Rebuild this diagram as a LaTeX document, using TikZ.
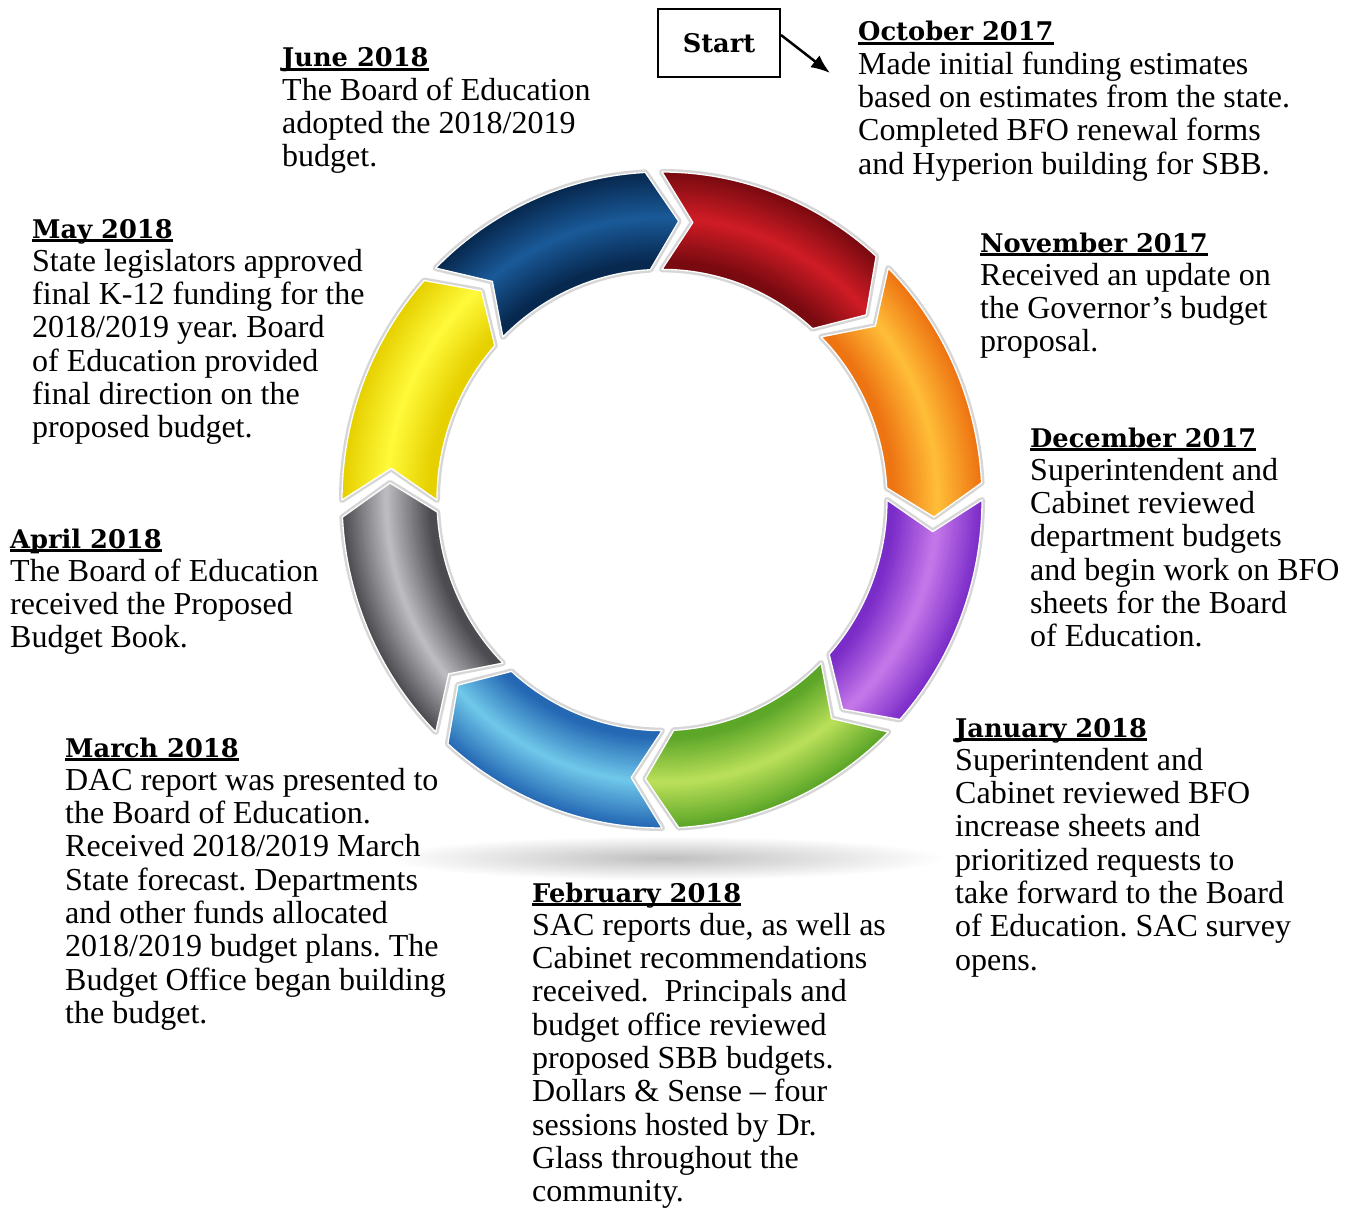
\documentclass[tikz,border=0pt]{standalone}
\usepackage{fontspec}
\setmainfont{Liberation Serif}
\newfontfamily\hdfamily{DejaVu Serif}
\usetikzlibrary{arrows.meta}
\frenchspacing

\definecolor{navyL}{HTML}{1A5A98}\definecolor{navyD}{HTML}{07284F}
\definecolor{redL}{HTML}{D01C25}\definecolor{redD}{HTML}{780A10}
\definecolor{orangeL}{HTML}{FFBE38}\definecolor{orangeD}{HTML}{EE7412}
\definecolor{purpleL}{HTML}{C678EA}\definecolor{purpleD}{HTML}{7A2CC8}
\definecolor{greenL}{HTML}{BBE05A}\definecolor{greenD}{HTML}{5CA628}
\definecolor{blueL}{HTML}{70C8EA}\definecolor{blueD}{HTML}{2468B4}
\definecolor{grayL}{HTML}{BDBDC2}\definecolor{grayD}{HTML}{4C4C50}
\definecolor{yellowL}{HTML}{FFFA3A}\definecolor{yellowD}{HTML}{E6D000}

\newcommand\hdul[1]{\setbox0=\hbox{#1}\rlap{\rule[-3.8pt]{\wd0}{2.4pt}}\box0}
\newcommand\bodyfont{\fontsize{32}{33.3}\selectfont}
\newcommand\hdline[1]{\hbox{\hdfamily\bfseries\fontsize{25.7}{33.3}\selectfont\hdul{#1}}}
\newcommand\blkline[1]{\hbox{#1}}
\newcommand\segpath[2]{(#1:320) arc[start angle=#1, end angle=#2, radius=320] -- (#2-6.5:272.5) -- (#2:225) arc[start angle=#2, end angle=#1, radius=225] -- (#1-6.5:272.5) -- cycle}

\tikzset{
  blk/.style={anchor=base west, inner sep=0pt, font=\bodyfont},
  startbox/.style={draw, line width=2.4pt, minimum width=121.6pt, minimum height=67.6pt, inner sep=0pt,
    font=\hdfamily\bfseries\fontsize{25.7}{30}\selectfont},
}

\begin{document}
\begin{tikzpicture}[x=1pt,y=1pt]
\useasboundingbox (0,0) rectangle (1348,-1209);
\fill[white] (0,0) rectangle (1348,-1209);

% soft shadow under the ring
\shade[inner color=black!25, outer color=white] (665,-858) ellipse[x radius=280, y radius=22];

% ring of arrows
\begin{scope}[shift={(662,-500)}, yscale=1.025]
  \foreach \k/\cl/\cd in {0/navyL/navyD,1/redL/redD,2/orangeL/orangeD,3/purpleL/purpleD,
                          4/greenL/greenD,5/blueL/blueD,6/grayL/grayD,7/yellowL/yellowD}{
    \pgfmathsetmacro\a{135-45*\k}
    \pgfmathsetmacro\b{93-45*\k}
    \draw[line width=6pt, draw=black!16, line join=round] \segpath{\a}{\b};
    \begin{scope}
      \clip \segpath{\a}{\b};
      \foreach \rr in {221,223,...,325}{
        \pgfmathtruncatemacro\t{min(100,abs(\rr-276)*2.3)}
        \draw[line width=2.8pt, color=\cd!\t!\cl] (0,0) circle[radius=\rr];
      }
    \end{scope}
    \draw[line width=1.3pt, white, line join=round] \segpath{\a}{\b};
  }
\end{scope}

% start box and arrow
\node[startbox] (start) at (719,-43) {Start};
\coordinate (octtip) at (830,-73);
\draw[line width=2.5pt, -{Latex[length=19pt,width=15pt]}] ([yshift=8pt]start.east) -- (octtip);

% text blocks
\node[blk] (june) at (282,-67) {\vtop{\lineskiplimit=-100pt
  \hdline{June 2018}
  \blkline{The Board of Education}
  \blkline{adopted the 2018/2019}
  \blkline{budget.}}};

\node[blk] (oct) at (858,-41) {\vtop{\lineskiplimit=-100pt
  \hdline{October 2017}
  \blkline{Made initial funding estimates}
  \blkline{based on estimates from the state.}
  \blkline{Completed BFO renewal forms}
  \blkline{and Hyperion building for SBB.}}};

\node[blk] (nov) at (980,-252) {\vtop{\lineskiplimit=-100pt
  \hdline{November 2017}
  \blkline{Received an update on}
  \blkline{the Governor’s budget}
  \blkline{proposal.}}};

\node[blk] (dec) at (1030,-447) {\vtop{\lineskiplimit=-100pt
  \hdline{December 2017}
  \blkline{Superintendent and}
  \blkline{Cabinet reviewed}
  \blkline{department budgets}
  \blkline{and begin work on BFO}
  \blkline{sheets for the Board}
  \blkline{of Education.}}};

\node[blk] (jan) at (955,-737) {\vtop{\lineskiplimit=-100pt
  \hdline{January 2018}
  \blkline{Superintendent and}
  \blkline{Cabinet reviewed BFO}
  \blkline{increase sheets and}
  \blkline{prioritized requests to}
  \blkline{take forward to the Board}
  \blkline{of Education. SAC survey}
  \blkline{opens.}}};

\node[blk] (feb) at (532,-902) {\vtop{\lineskiplimit=-100pt
  \hdline{February 2018}
  \blkline{SAC reports due, as well as}
  \blkline{Cabinet recommendations}
  \blkline{received.\ \ Principals and}
  \blkline{budget office reviewed}
  \blkline{proposed SBB budgets.}
  \blkline{Dollars \& Sense – four}
  \blkline{sessions hosted by Dr.}
  \blkline{Glass throughout the}
  \blkline{community.}}};

\node[blk] (mar) at (65,-757) {\vtop{\lineskiplimit=-100pt
  \hdline{March 2018}
  \blkline{DAC report was presented to}
  \blkline{the Board of Education.}
  \blkline{Received 2018/2019 March}
  \blkline{State forecast. Departments}
  \blkline{and other funds allocated}
  \blkline{2018/2019 budget plans. The}
  \blkline{Budget Office began building}
  \blkline{the budget.}}};

\node[blk] (apr) at (10,-548) {\vtop{\lineskiplimit=-100pt
  \hdline{April 2018}
  \blkline{The Board of Education}
  \blkline{received the Proposed}
  \blkline{Budget Book.}}};

\node[blk] (may) at (32,-238) {\vtop{\lineskiplimit=-100pt
  \hdline{May 2018}
  \blkline{State legislators approved}
  \blkline{final K-12 funding for the}
  \blkline{2018/2019 year. Board}
  \blkline{of Education provided}
  \blkline{final direction on the}
  \blkline{proposed budget.}}};
\end{tikzpicture}
\end{document}
